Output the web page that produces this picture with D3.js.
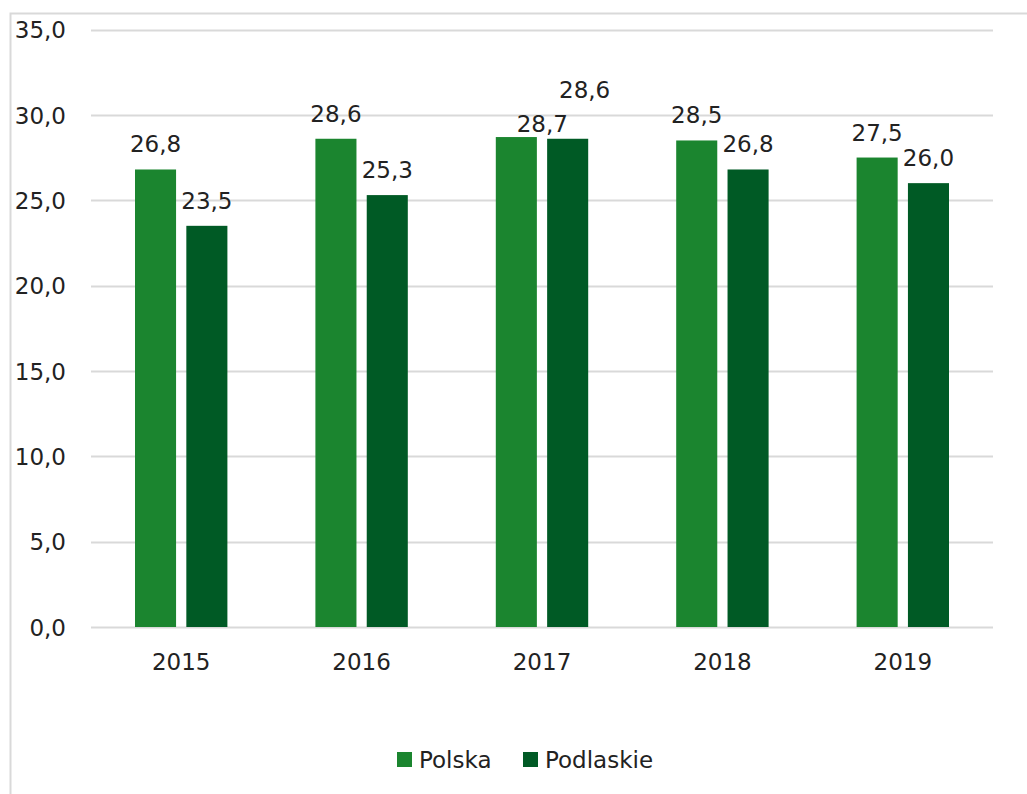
<!DOCTYPE html>
<html><head><meta charset="utf-8">
<script src="https://cdn.jsdelivr.net/npm/d3@7"></script>
<style>body{margin:0;background:#fff}svg text{font-family:"DejaVu Sans",sans-serif;fill:#222}</style>
</head><body><svg id="c" width="1027" height="794"></svg>
<script>
const years = ["2015","2016","2017","2018","2019"];
const series = ["Polska","Podlaskie"];
const polska = [26.8,28.6,28.7,28.5,27.5];
const podlaskie = [23.5,25.3,28.6,26.8,26.0];
const yTicks = [0,5,10,15,20,25,30,35];
const colors = ["#1b852f","#005a25"];

const FS = 23;
const svg = d3.select("#c");
svg.append("rect").attr("x",10.5).attr("y",13.5).attr("width",1030).attr("height",800)
  .attr("fill","none").attr("stroke","#d9d9d9").attr("stroke-width",2);

const x = d3.scaleBand().domain(years).range([91,993]).paddingInner(0).paddingOuter(0);
const y = d3.scaleLinear().domain([0,35]).range([627,29.5]);
const fmt = v => d3.format(".1f")(v).replace(".",",");

const grid = svg.append("g");
grid.selectAll("line").data(yTicks).join("line")
  .attr("x1",91).attr("x2",993).attr("y1",d=>Math.round(y(d))+0.5).attr("y2",d=>Math.round(y(d))+0.5)
  .attr("stroke","#d9d9d9").attr("stroke-width",2);

const yAxis = svg.append("g").attr("transform","translate(66,0)")
  .call(d3.axisLeft(y).tickValues(yTicks).tickFormat(fmt).tickSize(0).tickPadding(0));
yAxis.select(".domain").remove();
yAxis.selectAll("text").attr("font-size",FS).attr("dy","0.36em").style("font-family",'"DejaVu Sans",sans-serif').attr("fill","#222");

const xAxis = svg.append("g").attr("transform","translate(0,627)")
  .call(d3.axisBottom(x).tickSize(0).tickPadding(0));
xAxis.select(".domain").remove();
xAxis.selectAll("text").attr("font-size",FS).attr("y",43).attr("dy",0).style("font-family",'"DejaVu Sans",sans-serif').attr("fill","#222");

const inner = d3.scaleBand().domain(series).range([44,x.bandwidth()-44]).paddingInner(0.2);
const data = years.map((yr,i)=>({yr, vals:[polska[i],podlaskie[i]]}));
const g = svg.append("g");
data.forEach(d=>{
  d.vals.forEach((v,j)=>{
    const bx = x(d.yr)+inner(series[j]);
    g.append("rect").attr("x",bx).attr("y",y(v)).attr("width",inner.bandwidth()).attr("height",y(0)-y(v)).attr("fill",colors[j]);
    let lx = bx+inner.bandwidth()/2, ly = y(v)-17;
    if(d.yr==="2017"){ if(j===0){lx+=26; ly=y(v)-5;} else {lx+=17; ly=y(v)-41;} }
    g.append("text").attr("x",lx).attr("y",ly).attr("text-anchor","middle").attr("font-size",FS).text(fmt(v));
  });
});

const leg = svg.append("g");
const legX = [397,523];
series.forEach((s,j)=>{
  leg.append("rect").attr("x",legX[j]).attr("y",752).attr("width",15).attr("height",15).attr("fill",colors[j]);
  leg.append("text").attr("x",legX[j]+22).attr("y",768).attr("font-size",FS).text(s);
});
</script></body></html>
